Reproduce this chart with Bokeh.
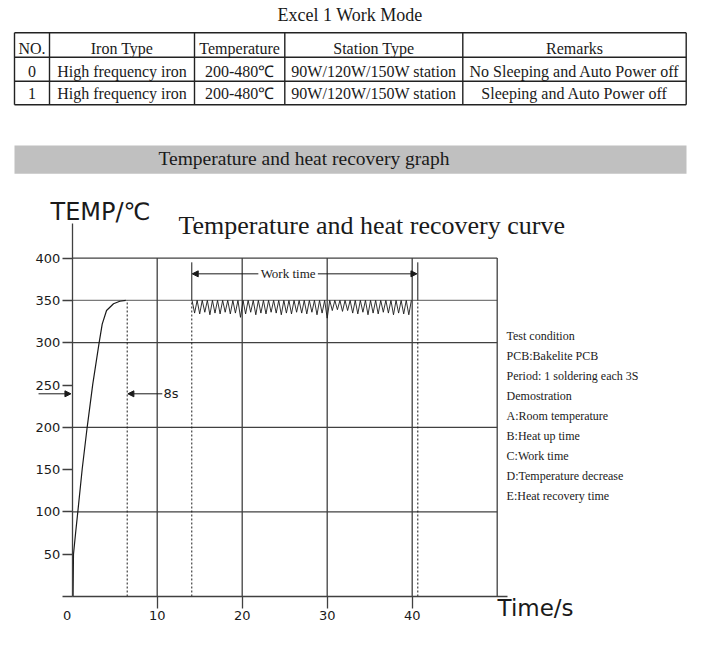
from bokeh.plotting import figure
from bokeh.models import Range1d, Label, Arrow, NormalHead, FixedTicker
from bokeh.embed import file_html
from bokeh.resources import INLINE
from bokeh.core.properties import value

# ---------------- data ----------------
table_title = "Excel 1 Work Mode"
table_header = ["NO.", "Iron Type", "Temperature", "Station Type", "Remarks"]
row_0 = ["0", "High frequency iron", "200-480℃", "90W/120W/150W station", "No Sleeping and Auto Power off"]
row_1 = ["1", "High frequency iron", "200-480℃", "90W/120W/150W station", "Sleeping and Auto Power off"]
section_title = "Temperature and heat recovery graph"

chart_title = "Temperature and heat recovery curve"
y_title = "TEMP/℃"
x_title = "Time/s"

heat_t = [0.1, 0.15, 0.4, 0.66, 1.18, 1.76, 2.42, 3.17, 3.53, 4.04, 4.86, 5.6, 6.3]
heat_temp = [0, 50, 75, 100, 151, 200, 251, 300, 322, 338, 346, 349, 350]

zig_t = [14.1, 14.4, 14.7, 15.0, 15.3, 15.6, 15.9, 16.2, 16.5, 16.8, 17.1, 17.4, 17.7, 18.0, 18.3,
         18.6, 18.9, 19.2, 19.5, 19.8, 20.1, 20.4, 20.7, 21.0, 21.3, 21.6, 21.9, 22.2, 22.5, 22.8,
         23.1, 23.4, 23.7, 24.0, 24.3, 24.6, 24.9, 25.2, 25.5, 25.8, 26.1, 26.4, 26.7, 27.0, 27.3,
         27.6, 27.9, 28.2, 28.5, 28.8, 29.1, 29.4, 29.7, 30.0, 30.3, 30.6, 30.9, 31.2, 31.5, 31.8,
         32.1, 32.4, 32.7, 33.0, 33.3, 33.6, 33.9, 34.2, 34.5, 34.8, 35.1, 35.4, 35.7, 36.0, 36.3,
         36.6, 36.9, 37.2, 37.5, 37.8, 38.1, 38.4, 38.7, 39.0, 39.3, 39.6, 39.9]
zig_temp = [350, 335, 350, 334, 350, 336, 350, 333, 350, 335, 350, 334, 350, 336, 350, 334, 350, 335, 350, 330,
            350, 334, 350, 336, 350, 333, 350, 335, 350, 334, 350, 336, 350, 335, 350, 333, 350, 335, 350, 334,
            350, 336, 350, 335, 350, 334, 350, 336, 350, 333, 350, 335, 350, 329, 350, 338, 350, 339, 350, 337,
            350, 338, 350, 335, 350, 334, 350, 336, 350, 333, 350, 335, 350, 334, 350, 336, 350, 335, 350, 333,
            350, 335, 350, 334, 350, 333, 350]

x_ticks = [10, 20, 30, 40]
x_zero_label = "0"
y_ticks = [0, 50, 100, 150, 200, 250, 300, 350, 400]
grid_y = [100, 200, 300, 400]
grid_350 = 350
grid_x = [10, 20, 30, 40, 50]
x_max = 50
y_max = 400

heat_end_t = 6.47
work_start_t = 14.07
work_end_t = 40.66
work_top = 395
work_arrow_temp = 381.4
work_label = "Work time"
heat_label = "8s"
room_arrow_temp = 239.6

notes = ["Test condition", "PCB:Bakelite PCB", "Period: 1 soldering each 3S", "Demostration",
         "A:Room temperature", "B:Heat up time", "C:Work time", "D:Temperature decrease",
         "E:Heat recovery time"]

SERIF = "Liberation Serif"
SANS = "DejaVu Sans"
INK = "#1a1a1a"
GRID = "#404040"
PX_PER_T = 8.5      # pixels per second
PX_PER_DEG = 0.846  # pixels per degree
SHIFT = 0.33        # baseline correction, in em

# ---------------- one figure, frame covers the whole canvas ----------------
p = figure(width=692, height=653, x_range=Range1d(-8.4353, 72.9765), y_range=Range1d(-67.376, 704.492),
           output_backend="svg", toolbar_location=None, title=None, min_border=0)
p.grid.visible = False
p.outline_line_color = None
p.extra_x_ranges = {"px": Range1d(0, 692)}
p.extra_y_ranges = {"py": Range1d(653, 0)}
PX = dict(x_range_name="px", y_range_name="py")

def ptext(x, y, text, size, align="center"):
    p.text(x=x, y=[yy - SHIFT * size for yy in y], text=text, text_font=value(SERIF),
           text_font_size=value(f"{size}px"), text_align=align, text_baseline="alphabetic",
           text_color=INK, **PX)

# ---- title + table ----
ptext([349.5], [20.5], [table_title], 18)

col_x = [14, 49, 194, 284.3, 462.3, 685.7]
row_y = [32.3, 56.7, 80.7, 104.3]
baselines = [53.3, 76.2, 98.6]
p.segment(x0=[col_x[0]] * 4, x1=[col_x[-1]] * 4, y0=row_y, y1=row_y, line_color="#222222",
          line_width=1.4, **PX)
p.segment(x0=col_x, x1=col_x, y0=[row_y[0]] * 6, y1=[row_y[-1]] * 6, line_color="#222222",
          line_width=1.4, **PX)
centers = [(col_x[i] + col_x[i + 1]) / 2 for i in range(5)]
for r, cells in enumerate([table_header, row_0, row_1]):
    ptext(centers, [baselines[r]] * 5, cells, 16)

p.quad(left=[14], right=[686], top=[145], bottom=[173.3], fill_color="#c0c0c0", line_color=None, **PX)
ptext([158], [164.5], [section_title], 19.5, "left")

# ---- chart axes (fixed at the origin) ----
for ax in (p.xaxis[0], p.yaxis[0]):
    ax.axis_line_color = GRID
    ax.axis_line_width = 1.3
    ax.major_tick_line_color = GRID
    ax.major_tick_line_width = 1.3
    ax.major_tick_in = 0
    ax.minor_tick_line_color = None
    ax.major_label_text_font = SANS
    ax.major_label_text_font_size = "13px"
    ax.major_label_text_color = INK
    ax.fixed_location = 0

p.xaxis.bounds = (0, 51.2)
p.yaxis.bounds = (0, 441)
p.xaxis.ticker = FixedTicker(ticks=x_ticks)
p.xaxis.major_tick_out = 12
p.xaxis.major_label_standoff = 3
p.yaxis.ticker = FixedTicker(ticks=y_ticks)
p.yaxis.major_label_overrides = {0: ""}
p.yaxis.major_tick_out = 10
p.yaxis.major_label_standoff = 2

# grid lines
p.segment(x0=[0] * len(grid_y), x1=[x_max] * len(grid_y), y0=grid_y, y1=grid_y,
          line_color=GRID, line_width=1.3)
p.segment(x0=[0], x1=[x_max], y0=[grid_350], y1=[grid_350], line_color="#7a7a7a", line_width=1.3)
p.segment(x0=grid_x, x1=grid_x, y0=[0] * len(grid_x), y1=[y_max] * len(grid_x),
          line_color=GRID, line_width=1.3)

# marker lines
p.segment(x0=[heat_end_t, work_start_t, work_end_t], x1=[heat_end_t, work_start_t, work_end_t],
          y0=[0, 0, 0], y1=[350, 350, 350], line_color=INK, line_width=1, line_dash="2 2")
p.segment(x0=[work_start_t, work_end_t], x1=[work_start_t, work_end_t],
          y0=[350, 350], y1=[work_top, work_top], line_color=INK, line_width=1)

# curves
p.line(heat_t, heat_temp, line_color=INK, line_width=1.2)
p.line(zig_t, zig_temp, line_color=INK, line_width=0.9)

# arrows
def arrow(x0, x1, y):
    p.add_layout(Arrow(x_start=x0, y_start=y, x_end=x1, y_end=y, line_color=INK, line_width=1,
                       end=NormalHead(size=6, fill_color=INK, line_color=INK, line_width=1)))

arrow(21.9, work_start_t + 0.05, work_arrow_temp)
arrow(28.9, work_end_t - 0.1, work_arrow_temp)
arrow(10.6, heat_end_t + 0.08, room_arrow_temp)
arrow(-3.96, -0.15, room_arrow_temp)

# labels (y given as the visual baseline, corrected by SHIFT em)
def label(x, y, text, font, size, align="left"):
    p.add_layout(Label(x=x, y=y + SHIFT * size / PX_PER_DEG, text=text, text_font=font,
                       text_font_size=f"{size}px", text_align=align, text_baseline="alphabetic",
                       text_color=INK))

label(-2.55, 445.3, y_title, SANS, 24)
label(50.04, -22.5, x_title, SANS, 23)
label(12.5, 428.7, chart_title, SERIF, 26)
label(25.4, 376.5, work_label, SERIF, 13, "center")
label(10.74, 234.8, heat_label, SANS, 13)
p.add_layout(Label(x=-0.59, y=-17.7, text=x_zero_label, text_font=SANS, text_font_size="13px",
                   text_align="center", text_baseline="top", text_color=INK))

for i, note in enumerate(notes):
    label(51.1, 303.4 - i * 23.64, note, SERIF, 12)

open("out.html", "w").write(file_html(p, INLINE))
